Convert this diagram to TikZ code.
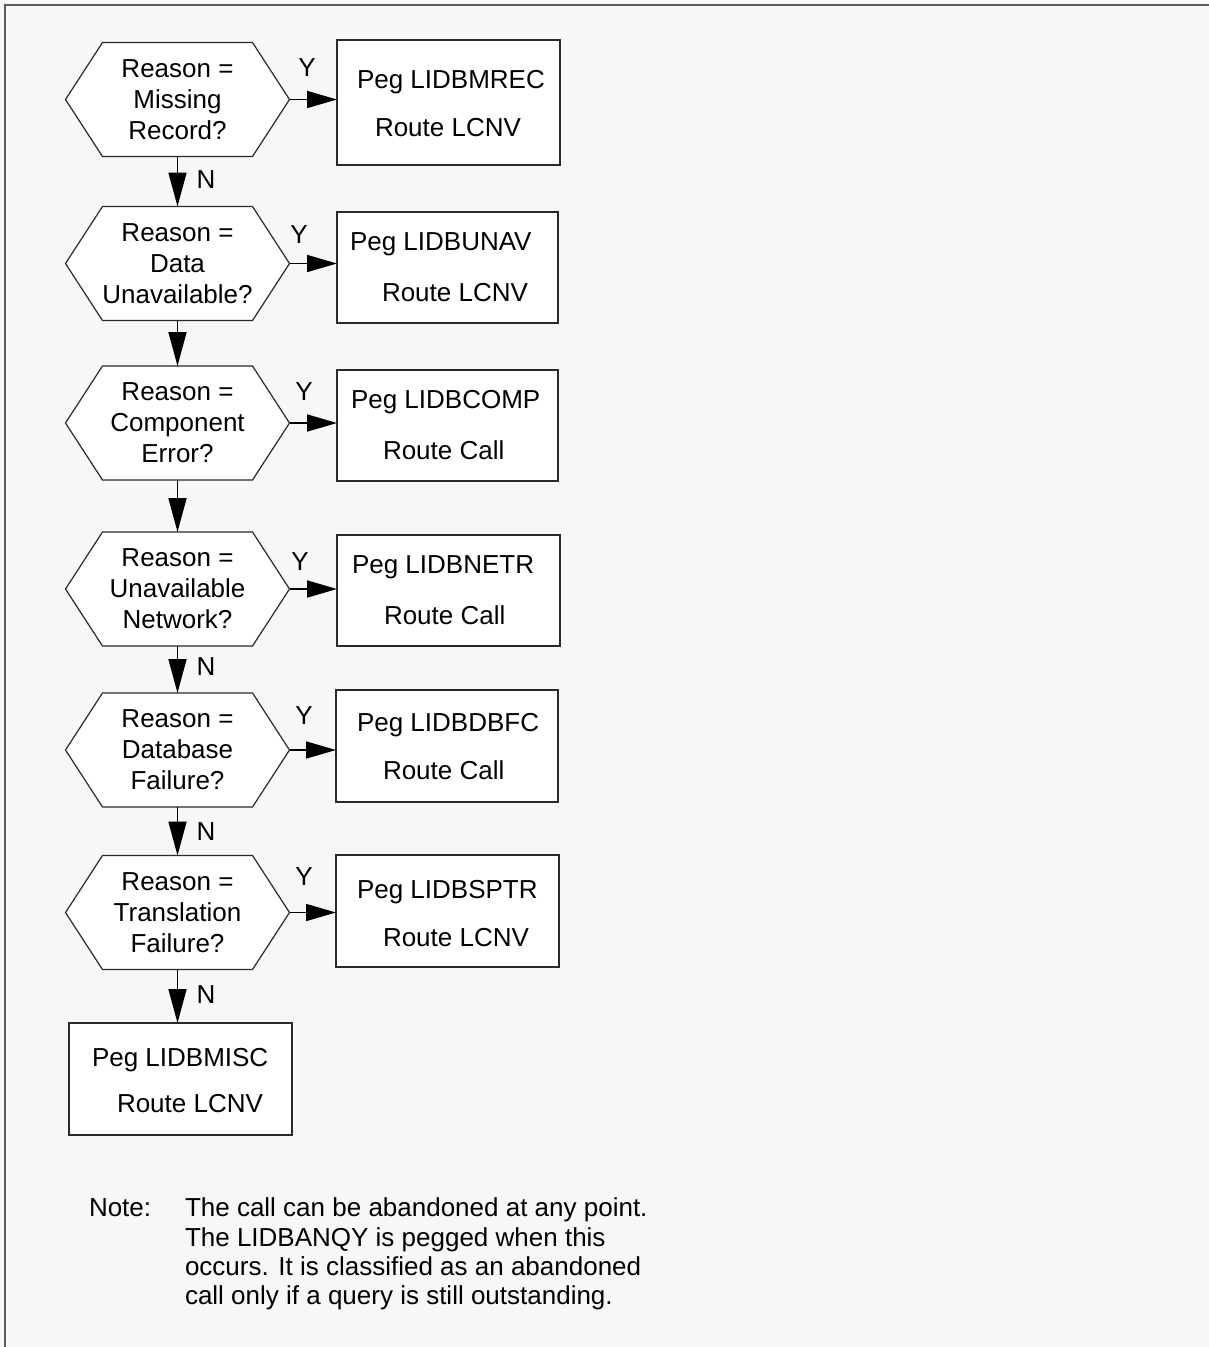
\documentclass[tikz,border=0pt]{standalone}
\usepackage{fontspec}
\setmainfont{Liberation Sans}
\usetikzlibrary{arrows.meta}
\pgfdeclarelayer{bg}
\pgfsetlayers{bg,main}
\definecolor{bgc}{HTML}{F7F7F7}
\definecolor{linec}{HTML}{2A2A2A}
\definecolor{framec}{HTML}{5A5A5A}
\begin{document}
\begin{tikzpicture}[x=1pt,y=-1pt,
  font=\fontsize{26}{31}\selectfont,
  hexn/.style={minimum width=224pt, minimum height=114pt, inner sep=0pt, outer sep=0pt, align=center},
  hexline/.style={draw=linec, fill=white, line width=1.2pt, line join=miter},
  boxn/.style={draw=linec, fill=white, line width=1.2pt, inner sep=0pt, outer sep=0pt},
  txt/.style={anchor=base west, inner sep=0pt, outer sep=0pt},
  lbl/.style={inner sep=0pt, outer sep=0pt},
  harr/.style={-{Triangle[length=30pt,width=17pt]}, line width=1.7pt, black},
  varr/.style={-{Triangle[length=34pt,width=18pt]}, line width=1.7pt, black}
]
\useasboundingbox (0,0) rectangle (1209,1347);

% decision nodes
\node[hexn] (h1) at (177.5,99.5)  {Reason =\\Missing\\Record?};
\node[hexn] (h2) at (177.5,263.5) {Reason =\\Data\\Unavailable?};
\node[hexn] (h3) at (177.5,423)   {Reason =\\Component\\Error?};
\node[hexn] (h4) at (177.5,589)   {Reason =\\Unavailable\\Network?};
\node[hexn] (h5) at (177.5,750)   {Reason =\\Database\\Failure?};
\node[hexn] (h6) at (177.5,912.5) {Reason =\\Translation\\Failure?};

% action boxes
\node[boxn, minimum width=223pt, minimum height=125pt] (b1) at (448.5,102.5) {};
\node[boxn, minimum width=221pt, minimum height=111pt] (b2) at (447.5,267.5) {};
\node[boxn, minimum width=221pt, minimum height=111pt] (b3) at (447.5,425.5) {};
\node[boxn, minimum width=223pt, minimum height=111pt] (b4) at (448.5,590.5) {};
\node[boxn, minimum width=222pt, minimum height=112pt] (b5) at (447,746) {};
\node[boxn, minimum width=223pt, minimum height=112pt] (b6) at (447.5,911) {};
\node[boxn, minimum width=223pt, minimum height=112pt] (b7) at (180.5,1079) {};

% box texts
\node[txt] (b1p) at (357,88)   {Peg LIDBMREC};
\node[txt] (b1r) at (375,136)  {Route LCNV};
\node[txt] (b2p) at (350,250)  {Peg LIDBUNAV};
\node[txt] (b2r) at (382,301)  {Route LCNV};
\node[txt] (b3p) at (351,408)  {Peg LIDBCOMP};
\node[txt] (b3r) at (383,459)  {Route Call};
\node[txt] (b4p) at (352,573)  {Peg LIDBNETR};
\node[txt] (b4r) at (384,624)  {Route Call};
\node[txt] (b5p) at (357,731)  {Peg LIDBDBFC};
\node[txt] (b5r) at (383,779)  {Route Call};
\node[txt] (b6p) at (357,898)  {Peg LIDBSPTR};
\node[txt] (b6r) at (383,946)  {Route LCNV};
\node[txt] (b7p) at (92,1066)  {Peg LIDBMISC};
\node[txt] (b7r) at (117,1112) {Route LCNV};

% hexagon outlines and background
\begin{pgfonlayer}{bg}
  \fill[bgc] (0,0) rectangle (1209,1347);
  \draw[framec, line width=1.8pt] (5,1347) -- (5,5) -- (1209,5);
  \foreach \n in {h1,h2,h3,h4,h5,h6}{
    \draw[hexline] (\n.west) -- ([xshift=37pt]\n.north west) -- ([xshift=-37pt]\n.north east)
      -- (\n.east) -- ([xshift=-37pt]\n.south east) -- ([xshift=37pt]\n.south west) -- cycle;
  }
\end{pgfonlayer}

% Y connectors
\draw[harr] (h1.east) -- (h1.east -| b1.west);
\draw[harr] (h2.east) -- (h2.east -| b2.west);
\draw[harr] (h3.east) -- (h3.east -| b3.west);
\draw[harr] (h4.east) -- (h4.east -| b4.west);
\draw[harr] (h5.east) -- (h5.east -| b5.west);
\draw[harr] (h6.east) -- (h6.east -| b6.west);

% N connectors
\draw[varr] (h1.south) -- (h2.north);
\draw[varr] (h2.south) -- (h3.north);
\draw[varr] (h3.south) -- (h4.north);
\draw[varr] (h4.south) -- (h5.north);
\draw[varr] (h5.south) -- (h6.north);
\draw[varr] (h6.south) -- (h6.south |- b7.north);

% labels
\node[lbl] (y1) at (307,68)  {Y};
\node[lbl] (y2) at (299,235) {Y};
\node[lbl] (y3) at (304,392) {Y};
\node[lbl] (y4) at (300,562) {Y};
\node[lbl] (y5) at (304,716) {Y};
\node[lbl] (y6) at (304,877) {Y};
\node[lbl] (n1) at (206,180) {N};
\node[lbl] (n4) at (206,667) {N};
\node[lbl] (n5) at (206,832) {N};
\node[lbl] (n6) at (206,995) {N};

% note
\node[txt] (note)  at (89,1216)  {Note:};
\node[txt] (nt1)   at (185,1216) {The call can be abandoned at any point.};
\node[txt] (nt2)   at (185,1246) {The LIDBANQY is pegged when this};
\node[txt] (nt3)   at (185,1275) {occurs. It is classified as an abandoned};
\node[txt] (nt4)   at (185,1304) {call only if a query is still outstanding.};
\end{tikzpicture}
\end{document}
